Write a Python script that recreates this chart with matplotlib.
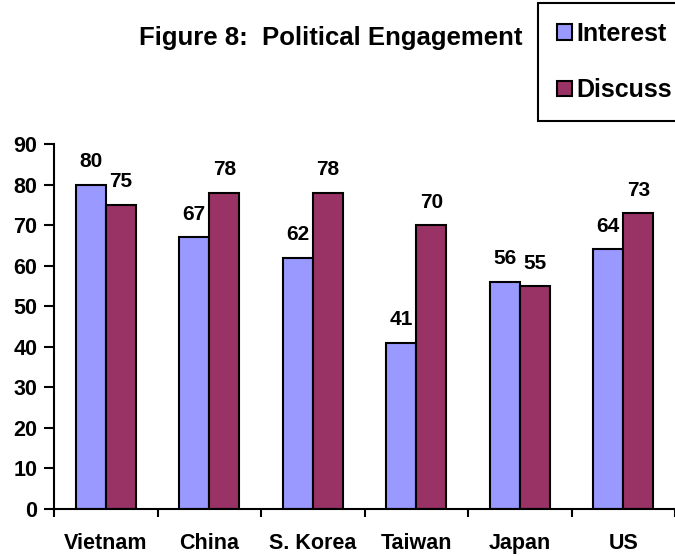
import matplotlib
matplotlib.use("Agg")
import matplotlib.pyplot as plt
import numpy as np

categories = ["Vietnam", "China", "S. Korea", "Taiwan", "Japan", "US"]
interest = [80, 67, 62, 41, 56, 64]
discuss = [75, 78, 78, 70, 55, 73]
yticks = [0, 10, 20, 30, 40, 50, 60, 70, 80, 90]

plt.rcParams['font.family'] = ['Liberation Sans', 'DejaVu Sans']
plt.rcParams['font.weight'] = 'bold'

W, H = 675, 556
fig = plt.figure(figsize=(W/100, H/100), dpi=100)
ax = fig.add_axes([54/W, 1-509/H, 621/W, (509-144)/H])

x = np.arange(len(categories))
bw = 0.29
b1 = ax.bar(x - bw/2, interest, bw, color="#9999FF", edgecolor="black", linewidth=1.5, label="Interest")
b2 = ax.bar(x + bw/2, discuss, bw, color="#993366", edgecolor="black", linewidth=1.5, label="Discuss")

for bars, vals in ((b1, interest), (b2, discuss)):
    for r, v in zip(bars, vals):
        ax.annotate(str(v), (r.get_x() + r.get_width()/2, v), xytext=(0, 16.5),
                    textcoords="offset points", ha="center", va="center",
                    fontsize=15, fontweight="bold")

ax.set_xlim(-0.5, len(categories) - 0.5)
ax.set_ylim(0, 90)
ax.set_yticks(yticks)
ax.set_yticklabels([str(t) for t in yticks], fontsize=15.5, fontweight="bold")
ax.set_xticks(x)
ax.set_xticklabels(categories, fontsize=15.5, fontweight="bold")
ax.set_xticks(np.arange(len(categories) + 1) - 0.5, minor=True)
ax.tick_params(axis="x", which="major", length=0, pad=17)
ax.tick_params(axis="x", which="minor", length=6, width=1.5, direction="out")
ax.tick_params(axis="y", length=7, width=1.5, direction="out", pad=5)
for s in ("top", "right"):
    ax.spines[s].set_visible(False)
for s in ("left", "bottom"):
    ax.spines[s].set_linewidth(1.5)

fig.text(331/W, 1-45/H, "Figure 8:  Political Engagement", ha="center", va="baseline",
         fontsize=18.5, fontweight="bold")

leg = fig.legend(handles=[b1, b2], loc="upper left", bbox_to_anchor=(538/W, 1-3/H),
                 frameon=True, fancybox=False, edgecolor="black", framealpha=1,
                 handlelength=0.6, handleheight=0.6, handletextpad=0.2,
                 labelspacing=1.3, borderpad=0.75, borderaxespad=0,
                 prop={"size": 18, "weight": "bold"})
leg.get_frame().set_linewidth(1.5)

fig.savefig("out.png", dpi=100)
